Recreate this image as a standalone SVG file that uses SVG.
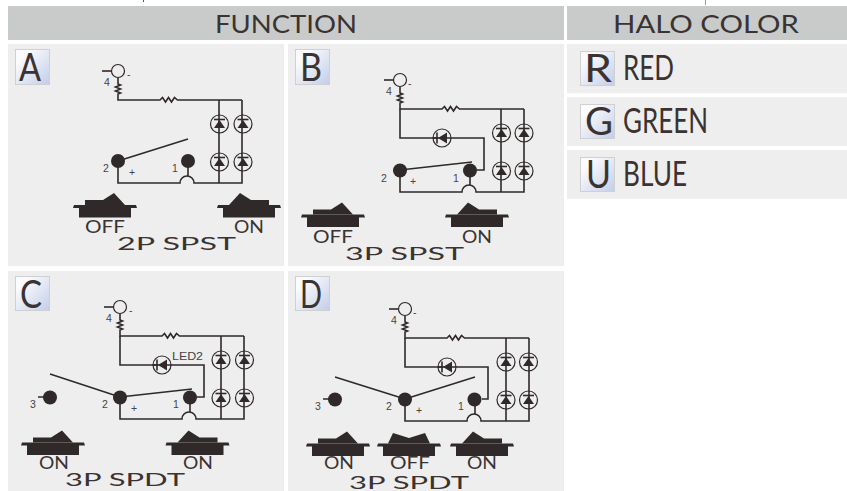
<svg xmlns="http://www.w3.org/2000/svg" width="847" height="491" viewBox="0 0 847 491">
<style>
text{font-family:"Liberation Sans",Arial,sans-serif;fill:#3a3332}
.head{fill:#c9cbca}.panel{fill:#eeeeee}
.badge{fill:url(#bg);stroke:#cfd0d2;stroke-width:1}
.big,.state,.model,.letter,.narrow{font-family:Lato,"Liberation Sans",sans-serif;font-weight:400}
.big{font-size:25px}.letter{font-size:38px}.narrow{font-size:34px}
.state{font-size:18px}.model{font-size:17.5px}.num{font-size:10.5px;fill:#444}
.w{fill:none;stroke:#2f2a29;stroke-width:1.6;stroke-linejoin:miter}
.t{fill:#2f2a29}
.o{fill:none;stroke:#2f2a29;stroke-width:1.2}
</style>
<defs>
<linearGradient id="bg" x1="0" y1="0" x2="1" y2="1"><stop offset="0.2" stop-color="#fbfbfd"/><stop offset="1" stop-color="#c2cde8"/></linearGradient>
<g id="sw-off"><path class="t" d="M-31,-1.5H31L32,1.5H26V11H-26V1.5H-32Z"/><path class="t" d="M-20,-1.5V-6.5H-2L9,-13.500L20,-1.5Z"/></g>
<g id="sw-on"><path class="t" d="M-31,-1.5H31L32,1.5H26V11H-26V1.5H-32Z"/><path class="t" d="M20,-1.5V-6.5H2L-9,-13.500L-20,-1.5Z"/></g>
<g id="sw-mid"><path class="t" d="M-31,-1.5H31L32,1.5H26V11H-26V1.5H-32Z"/><path class="t" d="M-21,-1.5L-16,-12L0,-7L16,-12L21,-1.5Z"/></g>
<g id="led"><circle class="o" r="9"/><path class="t" d="M0,-4L-5.5,4H5.5Z"/><path class="w" d="M-5.5,-4.500H5.500"/></g>
<g id="led-h"><circle class="o" r="9"/><path class="t" d="M-4,0L5,-5.5V5.5Z"/><path class="w" d="M-5,-5.5V5.5"/><path class="w" d="M-9,0H-4"/></g>
<g id="lamp"><circle class="o" r="6.5"/><path class="w" d="M-16,0H-6.5"/></g>
<path id="main" d="M118,78V84l2.5,1 -5,2 5,2 -5,2 5,2 -2.5,1V100H160l2.5,-2.5 3,4.5 3,-4.5 3,4.5 3,-4.5 3,2.5H242M219,100V183M242,100V183H194a7,7 0 0 0 -14,0H118V161M188,161V176"/>
</defs>

<rect x="143" y="0" width="1" height="2" fill="#555"/>
<rect x="705" y="0" width="1" height="5" fill="#999"/>

<g id="backgrounds">
<rect class="head" x="8" y="6" width="556" height="34"/>
<rect class="head" x="567" y="6" width="280" height="34"/>
<rect class="panel" x="8" y="44" width="276" height="222"/>
<rect class="panel" x="288" y="44" width="276" height="222"/>
<rect class="panel" x="8" y="271" width="276" height="220"/>
<rect class="panel" x="288" y="271" width="276" height="220"/>
<rect class="panel" x="567" y="44" width="280" height="49"/>
<rect class="panel" x="567" y="97" width="280" height="49"/>
<rect class="panel" x="567" y="150" width="280" height="49"/>
</g>

<g id="connectors">
<g id="wires-a"><use href="#main" class="w"/><path class="w" d="M118,161L188,139"/></g>
<g id="wires-b" transform="translate(282,9)"><use href="#main" class="w"/><path class="w" d="M118,100V129H202V161H195"/><path class="w" d="M118,161L190,153"/></g>
<g id="wires-c" transform="translate(2,236)"><use href="#main" class="w"/><path class="w" d="M118,100V129H202V161H195"/><path class="w" d="M118,161L190,153M118,161L48,138M36,161H45"/></g>
<g id="wires-d" transform="translate(287,238)"><use href="#main" class="w"/><path class="w" d="M118,100V129H201V161H195"/><path class="w" d="M118,161L188,139M118,161L48,139M36,161H45"/></g>
</g>

<g id="title-function"><text class="big" x="215" y="33" textLength="142" lengthAdjust="spacingAndGlyphs">FUNCTION</text></g>
<g id="title-halo"><text class="big" x="613" y="33" textLength="186" lengthAdjust="spacingAndGlyphs">HALO COLOR</text></g>

<g id="node-a">
<rect class="badge" x="15.500" y="49.500" width="34" height="35"/>
<text class="letter" x="19" y="81" textLength="22" lengthAdjust="spacingAndGlyphs">A</text>
<use href="#lamp" x="118" y="71"/>
<text class="num" x="127" y="78">-</text><text class="num" x="104" y="86">4</text>
<use href="#led" x="219.500" y="124"/><use href="#led" x="243" y="124"/><use href="#led" x="219.500" y="162"/><use href="#led" x="243" y="162"/>
<circle class="t" cx="118" cy="161" r="7"/><circle class="t" cx="188" cy="161" r="7"/>
<text class="num" x="103" y="172">2</text><text class="num" x="172" y="172">1</text><text class="num" x="129" y="176">+</text>
<use href="#sw-off" x="105" y="206.500"/><use href="#sw-on" x="249" y="206.500"/>
<text class="state" x="85" y="233" textLength="40" lengthAdjust="spacingAndGlyphs">OFF</text>
<text class="state" x="234" y="233" textLength="30" lengthAdjust="spacingAndGlyphs">ON</text>
<text class="model" x="117" y="250" textLength="119" lengthAdjust="spacingAndGlyphs">2P SPST</text>
</g>

<g id="node-b">
<rect class="badge" x="295.500" y="49.500" width="34" height="35"/>
<text class="letter" x="300" y="81" textLength="22" lengthAdjust="spacingAndGlyphs">B</text>
<use href="#lamp" x="400" y="80"/>
<text class="num" x="408" y="87">-</text><text class="num" x="386" y="95">4</text>
<use href="#led-h" x="442" y="138"/>
<use href="#led" x="501.500" y="133"/><use href="#led" x="524" y="133"/><use href="#led" x="501.500" y="171"/><use href="#led" x="524" y="171"/>
<circle class="t" cx="400" cy="170.500" r="7"/><circle class="t" cx="470" cy="170.500" r="7"/>
<text class="num" x="381" y="182">2</text><text class="num" x="453" y="182">1</text><text class="num" x="410" y="185">+</text>
<use href="#sw-off" x="333" y="216"/><use href="#sw-on" x="477" y="216"/>
<text class="state" x="313" y="243" textLength="40" lengthAdjust="spacingAndGlyphs">OFF</text>
<text class="state" x="462" y="243" textLength="30" lengthAdjust="spacingAndGlyphs">ON</text>
<text class="model" x="345" y="260" textLength="119" lengthAdjust="spacingAndGlyphs">3P SPST</text>
</g>

<g id="node-c">
<rect class="badge" x="15.500" y="276.500" width="34" height="34"/>
<text class="letter" x="20" y="308" textLength="22" lengthAdjust="spacingAndGlyphs">C</text>
<use href="#lamp" x="120" y="307"/>
<text class="num" x="129" y="314">-</text><text class="num" x="106" y="322">4</text>
<use href="#led-h" x="162" y="365"/>
<text class="num" x="172" y="360" textLength="31" lengthAdjust="spacingAndGlyphs">LED2</text>
<use href="#led" x="221" y="360"/><use href="#led" x="244.500" y="360"/><use href="#led" x="221" y="398"/><use href="#led" x="244.500" y="398"/>
<circle class="t" cx="50" cy="397.500" r="7"/><circle class="t" cx="120" cy="397.500" r="7"/><circle class="t" cx="190" cy="397.500" r="7"/>
<text class="num" x="30" y="408">3</text><text class="num" x="102" y="408">2</text><text class="num" x="173" y="408">1</text><text class="num" x="131" y="412">+</text>
<use href="#sw-off" x="53" y="444"/><use href="#sw-on" x="197.500" y="444"/>
<text class="state" x="39" y="469" textLength="30" lengthAdjust="spacingAndGlyphs">ON</text>
<text class="state" x="183" y="469" textLength="30" lengthAdjust="spacingAndGlyphs">ON</text>
<text class="model" x="65" y="486" textLength="120" lengthAdjust="spacingAndGlyphs">3P SPDT</text>
</g>

<g id="node-d">
<rect class="badge" x="295.500" y="276.500" width="34" height="34"/>
<text class="letter" x="300" y="308" textLength="22" lengthAdjust="spacingAndGlyphs">D</text>
<use href="#lamp" x="405" y="309"/>
<text class="num" x="413" y="316">-</text><text class="num" x="391" y="324">4</text>
<use href="#led-h" x="447" y="367"/>
<use href="#led" x="506" y="362"/><use href="#led" x="528.500" y="362"/><use href="#led" x="506" y="400"/><use href="#led" x="528.500" y="400"/>
<circle class="t" cx="335" cy="399.500" r="7"/><circle class="t" cx="405" cy="399.500" r="7"/><circle class="t" cx="474.500" cy="399.500" r="7"/>
<text class="num" x="315" y="410">3</text><text class="num" x="386" y="410">2</text><text class="num" x="458" y="410">1</text><text class="num" x="416" y="414">+</text>
<use href="#sw-off" x="338" y="445"/><use href="#sw-mid" x="409" y="445"/><use href="#sw-on" x="482" y="445"/>
<text class="state" x="324" y="469" textLength="30" lengthAdjust="spacingAndGlyphs">ON</text>
<text class="state" x="390" y="469" textLength="40" lengthAdjust="spacingAndGlyphs">OFF</text>
<text class="state" x="467" y="469" textLength="30" lengthAdjust="spacingAndGlyphs">ON</text>
<text class="model" x="349" y="488.500" textLength="120" lengthAdjust="spacingAndGlyphs">3P SPDT</text>
</g>

<g id="node-r">
<rect class="badge" x="580.500" y="51.500" width="34" height="34"/>
<text class="letter" x="584" y="82" textLength="28" lengthAdjust="spacingAndGlyphs">R</text>
<text class="narrow" x="623" y="80" textLength="51" lengthAdjust="spacingAndGlyphs">RED</text>
</g>
<g id="node-g">
<rect class="badge" x="580.500" y="104.500" width="34" height="34"/>
<text class="letter" x="585" y="135" textLength="28" lengthAdjust="spacingAndGlyphs">G</text>
<text class="narrow" x="623" y="133" textLength="85" lengthAdjust="spacingAndGlyphs">GREEN</text>
</g>
<g id="node-u">
<rect class="badge" x="580.500" y="157.500" width="34" height="34"/>
<text class="letter" x="586" y="188" textLength="25" lengthAdjust="spacingAndGlyphs">U</text>
<text class="narrow" x="623" y="186" textLength="64" lengthAdjust="spacingAndGlyphs">BLUE</text>
</g>
</svg>
